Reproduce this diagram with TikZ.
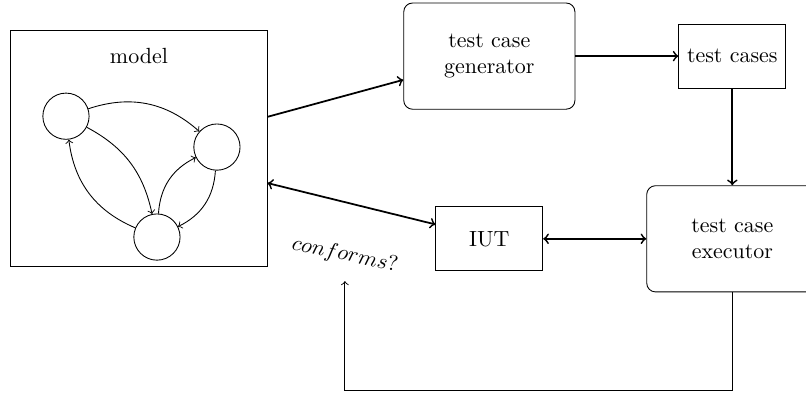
\documentclass[tikz,border=0pt]{standalone}
\usetikzlibrary{positioning,calc}
\def\gap{1.65cm}
\def\drop{1.55cm}

\begin{document}
\begin{tikzpicture}[scale=1,
    box/.style={draw, thin, minimum width=1.71cm, minimum height=1.02cm},
    roundbox/.style={draw, thin, rounded corners, minimum width=2.74cm, minimum height=1.70cm, align=center},
    state/.style={draw, thin, circle, minimum size=0.74cm},
    flow/.style={->, thick},
    trans/.style={->, thin}]

\useasboundingbox (0,0) rectangle (12.9,6.29);



\node[draw, thin, minimum width=4.10cm, minimum height=3.78cm] (model) at (2.224,3.92) {};
\node[below=0.18cm of model.north] (modeltitle) {model};

\foreach \n/\x/\y in {s1/1.056/4.43, s2/3.472/3.936, s3/2.512/2.496}{
    \node[state] (\n) at (\x,\y) {};
}

\draw[trans] (s1) to[bend left=30] (s2);
\draw[trans] (s1) to[bend left=25] (s3);
\draw[trans] (s3) to[bend left=30] (s1);
\draw[trans] (s3) to[bend left=30] (s2);
\draw[trans] (s2) to[bend left=30] (s3);


\node[roundbox] (gen) at (7.832,5.392) {test case\\generator};
\node[box, right=\gap of gen] (cases) {test cases};
\node[roundbox, below=\drop of cases] (exec) {test case\\executor};
\node[box] (iut) at (gen |- exec) {IUT};

\draw[flow] ([yshift=0.5cm]model.east) -- ([yshift=-0.38cm]gen.west);
\draw[flow] (gen) -- (cases);
\draw[flow] (cases) -- (exec);
\draw[flow, <->] ([yshift=-0.56cm]model.east) -- ([yshift=0.23cm]iut.west);
\draw[flow, <->] (iut) -- (exec);

\coordinate (conf) at (5.52,1.79);
\draw[trans] (exec.south) -- ++(0,-1.568) -| (conf);
\node[rotate=-12] (conformslabel) at (5.52,2.21) {$conforms?$};


\end{tikzpicture}
\end{document}
